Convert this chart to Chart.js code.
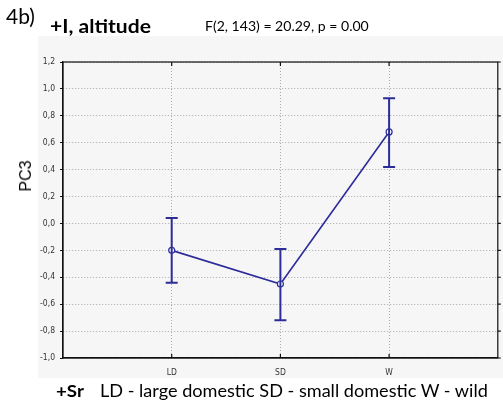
<!DOCTYPE html>
<html><head><meta charset="utf-8">
<script src="https://cdn.jsdelivr.net/npm/chart.js@4"></script>
<style>
html,body{margin:0;padding:0;background:#fff;}
#wrap{position:relative;width:503px;height:406px;overflow:hidden;}
#panel{position:absolute;left:38px;top:36px;width:465px;height:342px;background:#f6f6f6;}
canvas{position:absolute;left:0;top:0;}
.t{position:absolute;white-space:nowrap;font-family:Lato,"Open Sans",sans-serif;color:#000;line-height:1;transform-origin:0 0;}
</style></head>
<body><div id="wrap">
<div id="panel"></div>
<canvas id="c" width="503" height="406"></canvas>
<div class="t" style="left:6px;top:5px;font-size:21px;">4b)</div>
<div class="t" style="left:50px;top:17px;font-size:18px;font-weight:bold;transform:scaleX(1.17);">+I, altitude</div>
<div class="t" style="left:205px;top:20px;font-size:13px;transform:scaleX(1.08);">F(2, 143) = 20.29, p = 0.00</div>
<div class="t" style="left:56px;top:382px;font-size:17px;font-weight:bold;transform:scaleX(1.1);">+Sr</div>
<div class="t" style="left:100px;top:382px;font-size:17px;transform:scaleX(1.065);">LD - large domestic SD - small domestic W - wild</div>
<div class="t" style="left:26px;top:176px;font-size:16px;font-family:'Liberation Sans',Arial,sans-serif;transform-origin:50% 50%;transform:translate(-50%,-50%) rotate(-90deg);">PC3</div>
</div>
<script>
const categories = ["LD", "SD", "W"];
const means = [-0.20, -0.45, 0.68];
const lower = [-0.44, -0.72, 0.42];
const upper = [0.04, -0.19, 0.93];
const yTicks = [-1.0, -0.8, -0.6, -0.4, -0.2, 0.0, 0.2, 0.4, 0.6, 0.8, 1.0, 1.2];

const lineColor = "#2d2d9a";

const errorBars = {
  id: "errorBars",
  afterDatasetsDraw(chart) {
    const ctx = chart.ctx, xs = chart.scales.x, ys = chart.scales.y;
    ctx.save();
    ctx.strokeStyle = lineColor;
    ctx.lineWidth = 2;
    for (let i = 0; i < categories.length; i++) {
      const x = xs.getPixelForValue(i + 1);
      const yl = ys.getPixelForValue(lower[i]);
      const yu = ys.getPixelForValue(upper[i]);
      ctx.beginPath();
      ctx.moveTo(x, yl); ctx.lineTo(x, yu);
      ctx.moveTo(x - 6, yl); ctx.lineTo(x + 6, yl);
      ctx.moveTo(x - 6, yu); ctx.lineTo(x + 6, yu);
      ctx.stroke();
    }
    ctx.restore();
  }
};

const frame = {
  id: "frame",
  beforeDatasetsDraw(chart) {
    const {ctx, chartArea: a} = chart;
    const xs = chart.scales.x, ys = chart.scales.y;
    ctx.save();
    ctx.strokeStyle = "#111";
    ctx.lineWidth = 1.2;
    ctx.strokeRect(a.left, a.top, a.right - a.left, a.bottom - a.top);
    ctx.beginPath();
    yTicks.forEach(v => {
      const y = ys.getPixelForValue(v);
      ctx.moveTo(a.right, y); ctx.lineTo(a.right + 3, y);
    });
    for (let i = 0; i < categories.length; i++) {
      const x = xs.getPixelForValue(i + 1);
      ctx.moveTo(x, a.top); ctx.lineTo(x, a.top + 4);
      ctx.moveTo(x, a.bottom); ctx.lineTo(x, a.bottom - 4);
    }
    ctx.stroke();
    ctx.restore();
  }
};

new Chart(document.getElementById("c"), {
  type: "line",
  data: {
    datasets: [{
      data: means.map((m, i) => ({x: i + 1, y: m})),
      borderColor: lineColor,
      borderWidth: 1.6,
      pointRadius: 3,
      pointBackgroundColor: "#fff",
      pointBorderColor: lineColor,
      pointBorderWidth: 1.2,
      tension: 0
    }]
  },
  options: {
    responsive: false,
    animation: false,
    events: [],
    layout: {padding: {left: 0, right: 3, top: 62, bottom: 28}},
    plugins: {legend: {display: false}, tooltip: {enabled: false}},
    scales: {
      x: {
        type: "linear", min: 0, max: 4,
        afterBuildTicks(s) { s.ticks = categories.map((c, i) => ({value: i + 1})); },
        afterFit(s) { s.height = 20; },
        ticks: {
          callback: v => categories[v - 1] ?? "",
          font: {family: "'Liberation Sans Narrow','DejaVu Sans Condensed',sans-serif", size: 8.5},
          color: "#333", padding: 10, maxRotation: 0
        },
        grid: {color: "#aaaaaa", drawTicks: false},
        border: {display: true, color: "#111", width: 1.2, dash: [1, 2]}
      },
      y: {
        min: -1, max: 1.2,
        afterBuildTicks(s) { s.ticks = yTicks.map(v => ({value: v})); },
        afterFit(s) { s.width = 63; },
        ticks: {
          callback: v => v.toFixed(1).replace(".", ","),
          font: {family: "'Liberation Sans Narrow','DejaVu Sans Condensed',sans-serif", size: 8.5},
          color: "#333", padding: 5
        },
        grid: {color: "#aaaaaa", tickLength: 3, tickColor: "#111"},
        border: {display: true, color: "#111", width: 1.2, dash: [1, 2]}
      }
    }
  },
  plugins: [frame, errorBars]
});
</script>
</body></html>
